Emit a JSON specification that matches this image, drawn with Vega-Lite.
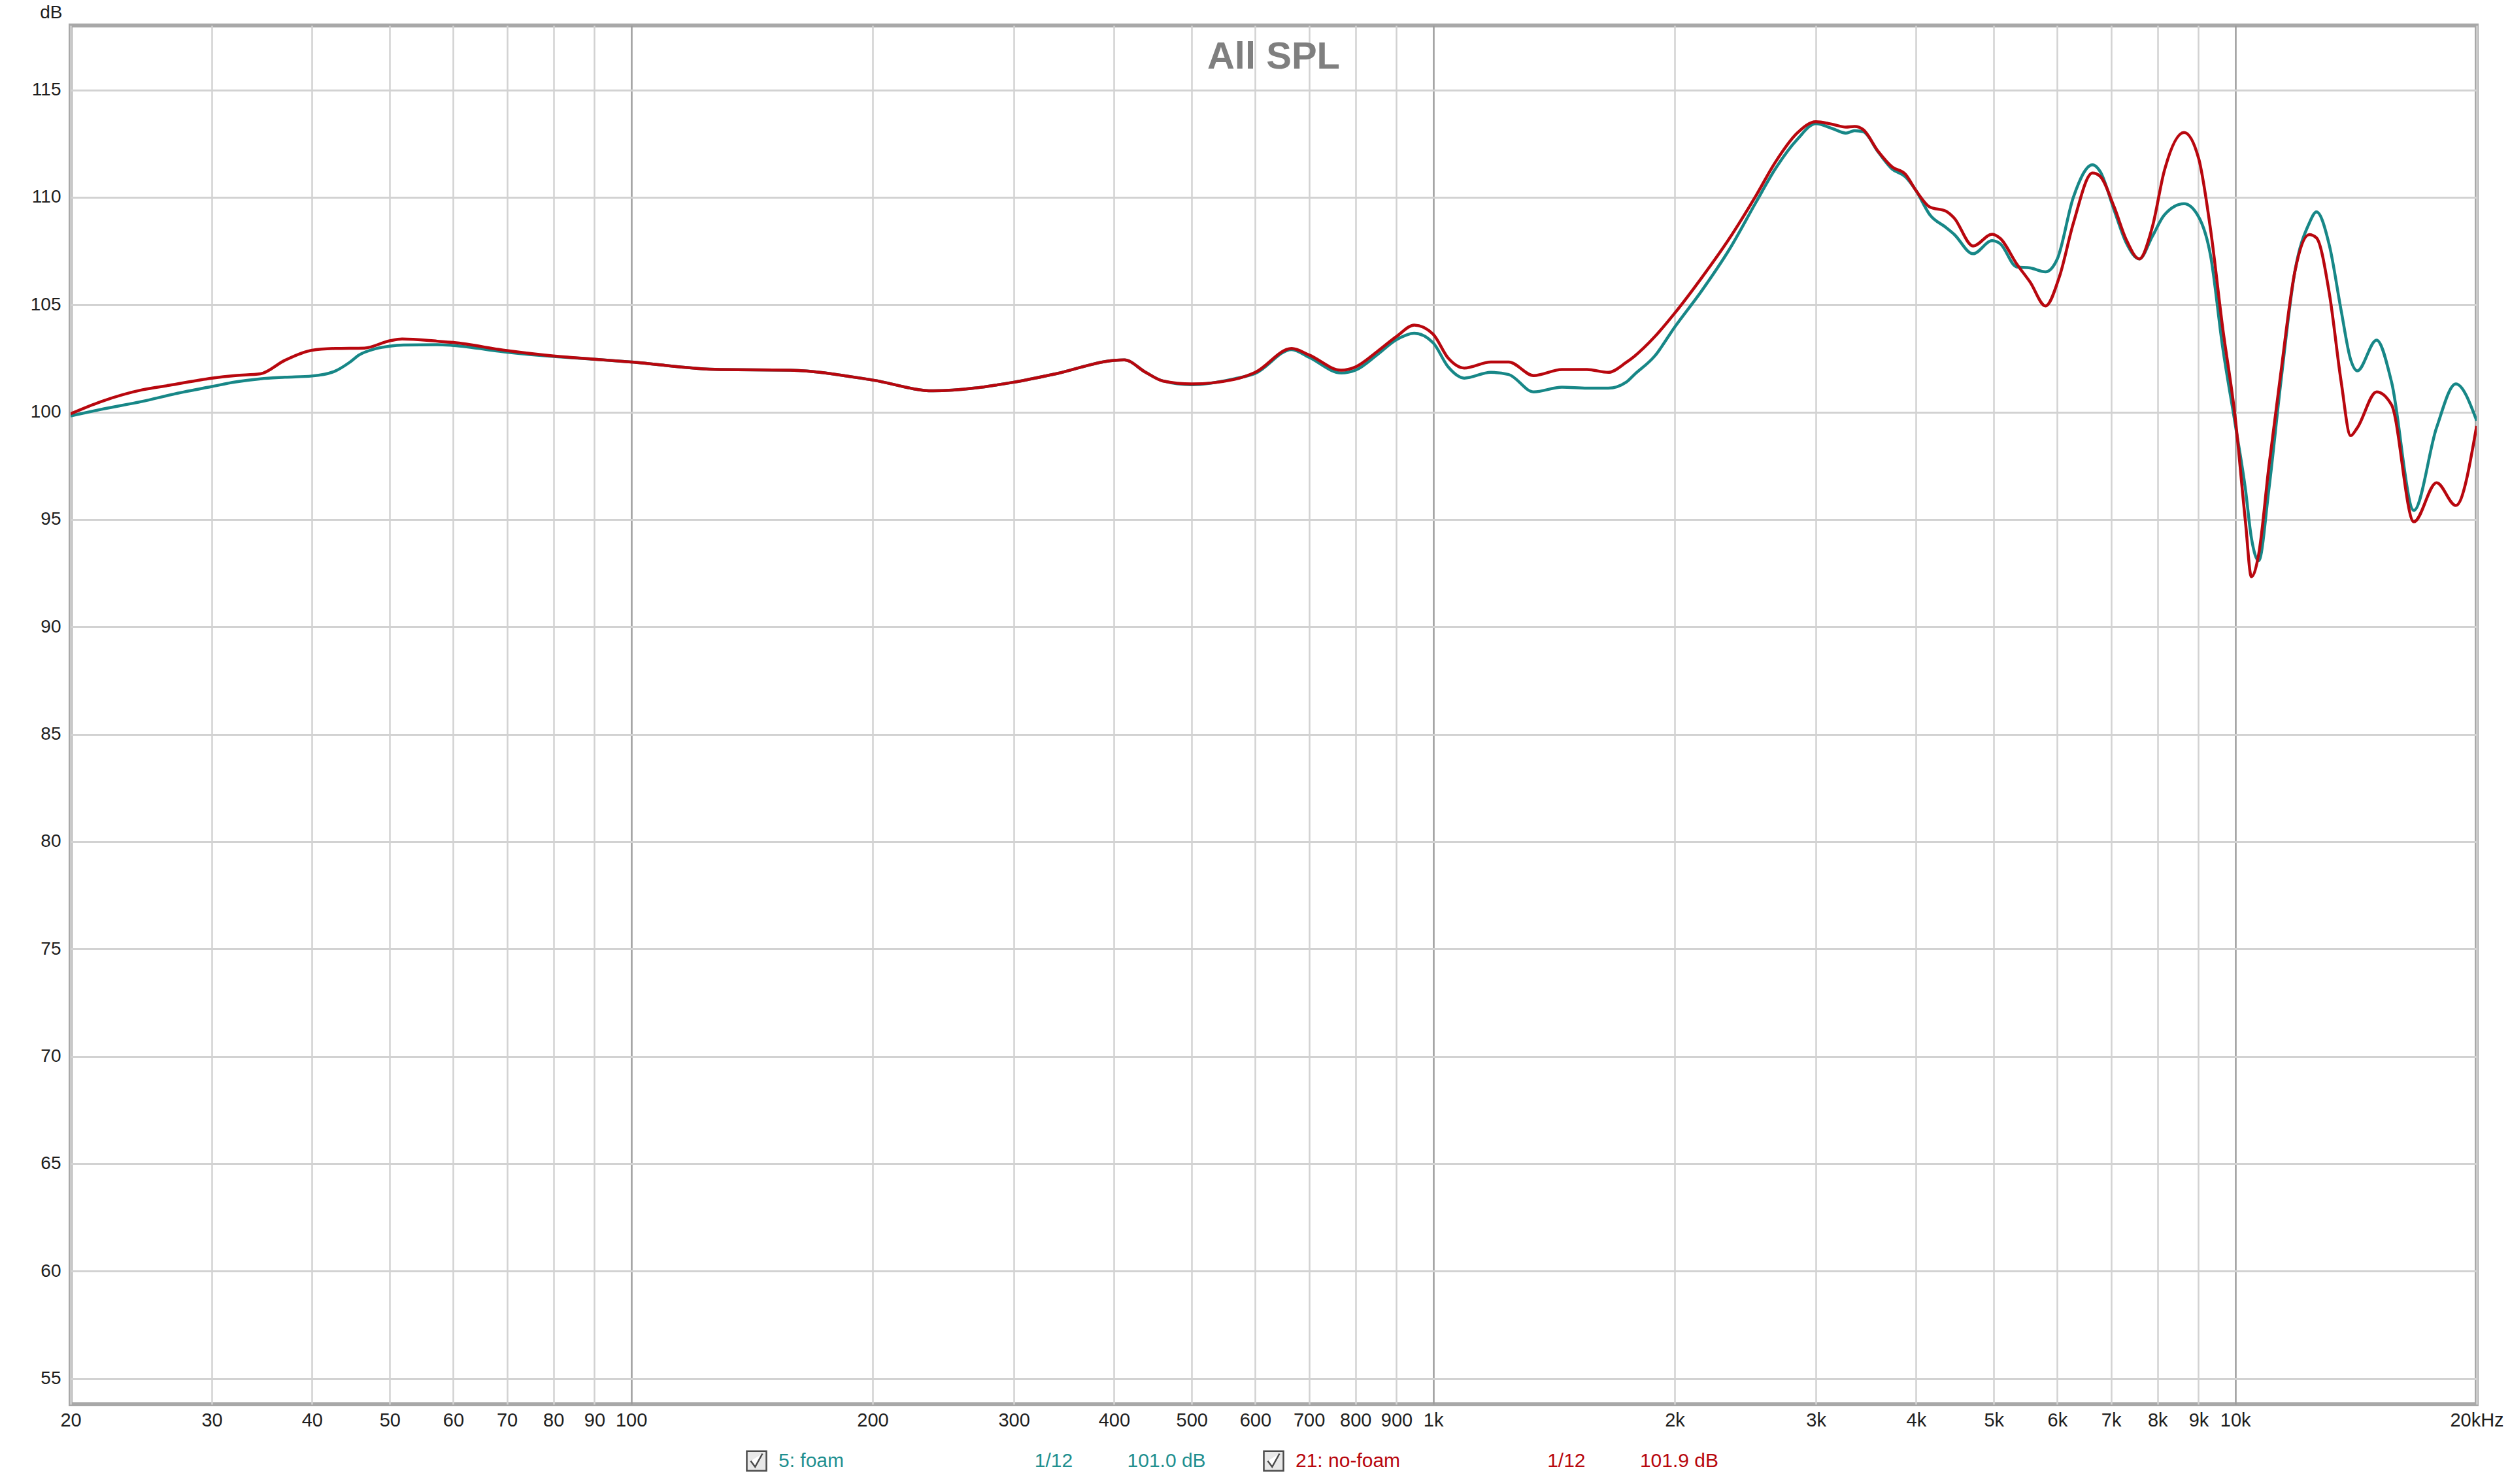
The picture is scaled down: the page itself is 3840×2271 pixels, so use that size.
{
  "$schema": "https://vega.github.io/schema/vega-lite/v6.json",
  "width": 3681,
  "height": 2110,
  "autosize": "none",
  "padding": {"left": 108, "top": 39, "right": 51, "bottom": 122},
  "background": "white",
  "title": {"text": "All SPL", "font": "Liberation Sans", "fontSize": 58, "fontWeight": "bold", "color": "#7f7f7f", "anchor": "middle", "frame": "group", "offset": -63, "dy": 95, "baseline": "alphabetic"},
  "config": {"view": {"stroke": "#a8a8a8", "strokeWidth": 6}},
  "data": {"values": [
    {"s": "5: foam", "f": 20, "db": 99.82}, {"s": "5: foam", "f": 21.8, "db": 100.12}, {"s": "5: foam", "f": 24.6, "db": 100.5}, {"s": "5: foam", "f": 27, "db": 100.85}, {"s": "5: foam", "f": 30, "db": 101.19}, {"s": "5: foam", "f": 32.1, "db": 101.4}, {"s": "5: foam", "f": 34.5, "db": 101.55}, {"s": "5: foam", "f": 37, "db": 101.62}, {"s": "5: foam", "f": 40, "db": 101.68}, {"s": "5: foam", "f": 42.7, "db": 101.9}, {"s": "5: foam", "f": 44.5, "db": 102.3}, {"s": "5: foam", "f": 45.8, "db": 102.66}, {"s": "5: foam", "f": 48, "db": 102.95}, {"s": "5: foam", "f": 50, "db": 103.07}, {"s": "5: foam", "f": 52, "db": 103.12}, {"s": "5: foam", "f": 57.3, "db": 103.14}, {"s": "5: foam", "f": 60, "db": 103.1}, {"s": "5: foam", "f": 70, "db": 102.79}, {"s": "5: foam", "f": 80, "db": 102.59}, {"s": "5: foam", "f": 90, "db": 102.46}, {"s": "5: foam", "f": 100, "db": 102.33}, {"s": "5: foam", "f": 129, "db": 101.98}, {"s": "5: foam", "f": 158, "db": 101.95}, {"s": "5: foam", "f": 200, "db": 101.49}, {"s": "5: foam", "f": 238, "db": 100.99}, {"s": "5: foam", "f": 300, "db": 101.39}, {"s": "5: foam", "f": 340, "db": 101.8}, {"s": "5: foam", "f": 400, "db": 102.41}, {"s": "5: foam", "f": 412, "db": 102.43}, {"s": "5: foam", "f": 438, "db": 101.85}, {"s": "5: foam", "f": 460, "db": 101.45}, {"s": "5: foam", "f": 500, "db": 101.27}, {"s": "5: foam", "f": 565, "db": 101.55}, {"s": "5: foam", "f": 600, "db": 101.8}, {"s": "5: foam", "f": 666, "db": 102.91}, {"s": "5: foam", "f": 700, "db": 102.55}, {"s": "5: foam", "f": 768, "db": 101.82}, {"s": "5: foam", "f": 800, "db": 101.95}, {"s": "5: foam", "f": 851, "db": 102.66}, {"s": "5: foam", "f": 900, "db": 103.37}, {"s": "5: foam", "f": 947, "db": 103.67}, {"s": "5: foam", "f": 1000, "db": 103.22}, {"s": "5: foam", "f": 1044, "db": 102.1}, {"s": "5: foam", "f": 1093, "db": 101.58}, {"s": "5: foam", "f": 1180, "db": 101.85}, {"s": "5: foam", "f": 1242, "db": 101.75}, {"s": "5: foam", "f": 1334, "db": 100.94}, {"s": "5: foam", "f": 1447, "db": 101.16}, {"s": "5: foam", "f": 1555, "db": 101.11}, {"s": "5: foam", "f": 1653, "db": 101.11}, {"s": "5: foam", "f": 1740, "db": 101.39}, {"s": "5: foam", "f": 1782, "db": 101.75}, {"s": "5: foam", "f": 1888, "db": 102.6}, {"s": "5: foam", "f": 2000, "db": 103.95}, {"s": "5: foam", "f": 2162, "db": 105.65}, {"s": "5: foam", "f": 2340, "db": 107.57}, {"s": "5: foam", "f": 2529, "db": 109.8}, {"s": "5: foam", "f": 2670, "db": 111.32}, {"s": "5: foam", "f": 2843, "db": 112.69}, {"s": "5: foam", "f": 3000, "db": 113.43}, {"s": "5: foam", "f": 3146, "db": 113.2}, {"s": "5: foam", "f": 3270, "db": 112.99}, {"s": "5: foam", "f": 3353, "db": 113.1}, {"s": "5: foam", "f": 3437, "db": 113.05}, {"s": "5: foam", "f": 3589, "db": 112.1}, {"s": "5: foam", "f": 3733, "db": 111.32}, {"s": "5: foam", "f": 3880, "db": 110.95}, {"s": "5: foam", "f": 4000, "db": 110.31}, {"s": "5: foam", "f": 4161, "db": 109.19}, {"s": "5: foam", "f": 4360, "db": 108.59}, {"s": "5: foam", "f": 4461, "db": 108.28}, {"s": "5: foam", "f": 4711, "db": 107.37}, {"s": "5: foam", "f": 4975, "db": 107.98}, {"s": "5: foam", "f": 5096, "db": 107.83}, {"s": "5: foam", "f": 5337, "db": 106.76}, {"s": "5: foam", "f": 5550, "db": 106.71}, {"s": "5: foam", "f": 5801, "db": 106.53}, {"s": "5: foam", "f": 6000, "db": 107.13}, {"s": "5: foam", "f": 6283, "db": 110.0}, {"s": "5: foam", "f": 6637, "db": 111.51}, {"s": "5: foam", "f": 6784, "db": 111.21}, {"s": "5: foam", "f": 7064, "db": 109.4}, {"s": "5: foam", "f": 7311, "db": 107.89}, {"s": "5: foam", "f": 7594, "db": 107.13}, {"s": "5: foam", "f": 7885, "db": 108.19}, {"s": "5: foam", "f": 8155, "db": 109.17}, {"s": "5: foam", "f": 8634, "db": 109.7}, {"s": "5: foam", "f": 9003, "db": 109.09}, {"s": "5: foam", "f": 9317, "db": 107.28}, {"s": "5: foam", "f": 9643, "db": 103.05}, {"s": "5: foam", "f": 10000, "db": 99.43}, {"s": "5: foam", "f": 10298, "db": 96.4}, {"s": "5: foam", "f": 10475, "db": 94.14}, {"s": "5: foam", "f": 10697, "db": 93.08}, {"s": "5: foam", "f": 11014, "db": 96.4}, {"s": "5: foam", "f": 11387, "db": 101.24}, {"s": "5: foam", "f": 11866, "db": 106.53}, {"s": "5: foam", "f": 12366, "db": 108.79}, {"s": "5: foam", "f": 12626, "db": 109.32}, {"s": "5: foam", "f": 13109, "db": 107.73}, {"s": "5: foam", "f": 13557, "db": 104.71}, {"s": "5: foam", "f": 13927, "db": 102.45}, {"s": "5: foam", "f": 14198, "db": 101.92}, {"s": "5: foam", "f": 15005, "db": 103.35}, {"s": "5: foam", "f": 15666, "db": 101.39}, {"s": "5: foam", "f": 16701, "db": 95.42}, {"s": "5: foam", "f": 17824, "db": 99.27}, {"s": "5: foam", "f": 18839, "db": 101.31}, {"s": "5: foam", "f": 20000, "db": 99.6},
    {"s": "21: no-foam", "f": 20, "db": 99.92}, {"s": "21: no-foam", "f": 21.8, "db": 100.48}, {"s": "21: no-foam", "f": 24.6, "db": 101.04}, {"s": "21: no-foam", "f": 26.5, "db": 101.24}, {"s": "21: no-foam", "f": 30, "db": 101.58}, {"s": "21: no-foam", "f": 32.1, "db": 101.7}, {"s": "21: no-foam", "f": 34.5, "db": 101.78}, {"s": "21: no-foam", "f": 37, "db": 102.41}, {"s": "21: no-foam", "f": 40, "db": 102.88}, {"s": "21: no-foam", "f": 42.7, "db": 102.96}, {"s": "21: no-foam", "f": 46.5, "db": 102.98}, {"s": "21: no-foam", "f": 50, "db": 103.32}, {"s": "21: no-foam", "f": 51.8, "db": 103.4}, {"s": "21: no-foam", "f": 57.3, "db": 103.3}, {"s": "21: no-foam", "f": 60, "db": 103.24}, {"s": "21: no-foam", "f": 70, "db": 102.86}, {"s": "21: no-foam", "f": 80, "db": 102.61}, {"s": "21: no-foam", "f": 90, "db": 102.46}, {"s": "21: no-foam", "f": 100, "db": 102.33}, {"s": "21: no-foam", "f": 129, "db": 101.98}, {"s": "21: no-foam", "f": 158, "db": 101.95}, {"s": "21: no-foam", "f": 200, "db": 101.49}, {"s": "21: no-foam", "f": 238, "db": 100.99}, {"s": "21: no-foam", "f": 300, "db": 101.39}, {"s": "21: no-foam", "f": 340, "db": 101.8}, {"s": "21: no-foam", "f": 400, "db": 102.41}, {"s": "21: no-foam", "f": 412, "db": 102.43}, {"s": "21: no-foam", "f": 438, "db": 101.85}, {"s": "21: no-foam", "f": 460, "db": 101.45}, {"s": "21: no-foam", "f": 500, "db": 101.31}, {"s": "21: no-foam", "f": 565, "db": 101.52}, {"s": "21: no-foam", "f": 600, "db": 101.85}, {"s": "21: no-foam", "f": 666, "db": 102.96}, {"s": "21: no-foam", "f": 700, "db": 102.66}, {"s": "21: no-foam", "f": 768, "db": 101.95}, {"s": "21: no-foam", "f": 800, "db": 102.1}, {"s": "21: no-foam", "f": 851, "db": 102.81}, {"s": "21: no-foam", "f": 900, "db": 103.52}, {"s": "21: no-foam", "f": 947, "db": 104.05}, {"s": "21: no-foam", "f": 1000, "db": 103.62}, {"s": "21: no-foam", "f": 1044, "db": 102.51}, {"s": "21: no-foam", "f": 1093, "db": 102.05}, {"s": "21: no-foam", "f": 1180, "db": 102.33}, {"s": "21: no-foam", "f": 1242, "db": 102.33}, {"s": "21: no-foam", "f": 1334, "db": 101.7}, {"s": "21: no-foam", "f": 1447, "db": 101.98}, {"s": "21: no-foam", "f": 1555, "db": 101.98}, {"s": "21: no-foam", "f": 1653, "db": 101.85}, {"s": "21: no-foam", "f": 1740, "db": 102.31}, {"s": "21: no-foam", "f": 1782, "db": 102.6}, {"s": "21: no-foam", "f": 1888, "db": 103.5}, {"s": "21: no-foam", "f": 2000, "db": 104.6}, {"s": "21: no-foam", "f": 2162, "db": 106.26}, {"s": "21: no-foam", "f": 2340, "db": 108.08}, {"s": "21: no-foam", "f": 2529, "db": 110.11}, {"s": "21: no-foam", "f": 2670, "db": 111.63}, {"s": "21: no-foam", "f": 2843, "db": 112.99}, {"s": "21: no-foam", "f": 3000, "db": 113.52}, {"s": "21: no-foam", "f": 3146, "db": 113.4}, {"s": "21: no-foam", "f": 3270, "db": 113.27}, {"s": "21: no-foam", "f": 3353, "db": 113.3}, {"s": "21: no-foam", "f": 3437, "db": 113.15}, {"s": "21: no-foam", "f": 3589, "db": 112.13}, {"s": "21: no-foam", "f": 3733, "db": 111.42}, {"s": "21: no-foam", "f": 3880, "db": 111.07}, {"s": "21: no-foam", "f": 4000, "db": 110.31}, {"s": "21: no-foam", "f": 4161, "db": 109.55}, {"s": "21: no-foam", "f": 4360, "db": 109.35}, {"s": "21: no-foam", "f": 4461, "db": 109.04}, {"s": "21: no-foam", "f": 4711, "db": 107.73}, {"s": "21: no-foam", "f": 4975, "db": 108.28}, {"s": "21: no-foam", "f": 5096, "db": 108.08}, {"s": "21: no-foam", "f": 5337, "db": 106.91}, {"s": "21: no-foam", "f": 5550, "db": 106.05}, {"s": "21: no-foam", "f": 5801, "db": 104.94}, {"s": "21: no-foam", "f": 6036, "db": 106.3}, {"s": "21: no-foam", "f": 6283, "db": 108.79}, {"s": "21: no-foam", "f": 6637, "db": 111.13}, {"s": "21: no-foam", "f": 6784, "db": 110.98}, {"s": "21: no-foam", "f": 7064, "db": 109.55}, {"s": "21: no-foam", "f": 7311, "db": 108.04}, {"s": "21: no-foam", "f": 7594, "db": 107.13}, {"s": "21: no-foam", "f": 7885, "db": 108.64}, {"s": "21: no-foam", "f": 8155, "db": 111.21}, {"s": "21: no-foam", "f": 8634, "db": 113.02}, {"s": "21: no-foam", "f": 9003, "db": 111.81}, {"s": "21: no-foam", "f": 9317, "db": 108.49}, {"s": "21: no-foam", "f": 9643, "db": 103.96}, {"s": "21: no-foam", "f": 10000, "db": 99.73}, {"s": "21: no-foam", "f": 10298, "db": 94.89}, {"s": "21: no-foam", "f": 10475, "db": 92.33}, {"s": "21: no-foam", "f": 10697, "db": 93.38}, {"s": "21: no-foam", "f": 11014, "db": 97.46}, {"s": "21: no-foam", "f": 11387, "db": 101.69}, {"s": "21: no-foam", "f": 11866, "db": 106.53}, {"s": "21: no-foam", "f": 12366, "db": 108.26}, {"s": "21: no-foam", "f": 12626, "db": 108.11}, {"s": "21: no-foam", "f": 13109, "db": 105.47}, {"s": "21: no-foam", "f": 13557, "db": 101.39}, {"s": "21: no-foam", "f": 13927, "db": 98.9}, {"s": "21: no-foam", "f": 14198, "db": 99.27}, {"s": "21: no-foam", "f": 15005, "db": 100.94}, {"s": "21: no-foam", "f": 15666, "db": 100.33}, {"s": "21: no-foam", "f": 16701, "db": 94.89}, {"s": "21: no-foam", "f": 17824, "db": 96.71}, {"s": "21: no-foam", "f": 18839, "db": 95.65}, {"s": "21: no-foam", "f": 20000, "db": 99.35}
  ]},
  "mark": {"type": "line", "interpolate": "monotone", "strokeWidth": 4.5, "clip": true},
  "encoding": {
    "x": {"field": "f", "type": "quantitative", "scale": {"type": "log", "domain": [20, 20000], "nice": false},
      "axis": {"title": null, "values": [20, 30, 40, 50, 60, 70, 80, 90, 100, 200, 300, 400, 500, 600, 700, 800, 900, 1000, 2000, 3000, 4000, 5000, 6000, 7000, 8000, 9000, 10000, 20000],
        "labelExpr": "datum.value >= 20000 ? '20kHz' : (datum.value >= 1000 ? (datum.value / 1000) + 'k' : datum.value + '')",
        "grid": true, "gridColor": {"condition": {"test": "datum.value == 100 || datum.value == 1000 || datum.value == 10000", "value": "#9c9c9c"}, "value": "#d2d2d2"}, "gridWidth": 2.5,
        "ticks": false, "domain": false, "labelFont": "Liberation Sans", "labelFontSize": 29, "labelColor": "#1e1e1e", "labelPadding": 10, "labelOverlap": false, "labelFlush": false, "labelBound": false}},
    "y": {"field": "db", "type": "quantitative", "scale": {"domain": [53.8, 118], "nice": false, "zero": false},
      "axis": {"values": [55, 60, 65, 70, 75, 80, 85, 90, 95, 100, 105, 110, 115], "title": "dB", "titleAngle": 0, "titleAlign": "right", "titleBaseline": "alphabetic", "titleX": -13, "titleY": -12, "titleFont": "Liberation Sans", "titleFontSize": 28, "titleFontWeight": "normal", "titleColor": "#1e1e1e",
        "grid": true, "gridColor": "#d2d2d2", "gridWidth": 3, "ticks": false, "domain": false, "labelFont": "Liberation Sans", "labelFontSize": 28, "labelColor": "#1e1e1e", "labelPadding": 15}},
    "color": {"field": "s", "type": "nominal", "scale": {"range": ["#b8070e", "#178787"]}, "legend": null},
    "opacity": {"field": "s", "type": "nominal", "scale": {"domain": ["5: foam", "21: no-foam"], "range": [1, 1]},
      "legend": {"orient": "none", "legendX": 1033, "legendY": 2180, "direction": "horizontal", "columns": 2, "title": null,
        "symbolType": "M-1,-1H1V1H-1Z M-0.6,0 L-0.15,0.6 L0.6,-0.75", "symbolSize": 900, "symbolStrokeWidth": 2.5, "symbolStrokeColor": "#4a4a4a", "symbolFillColor": "#e8e8e8",
        "labelFont": "Liberation Sans", "labelFontSize": 30, "labelOffset": 17, "columnPadding": 83, "labelLimit": 2000, "labelBaseline": "middle",
        "labelColor": {"expr": "datum.value === '5: foam' ? '#1f9090' : '#b8070e'"},
        "labelExpr": "datum.label == '5: foam' ? '5: foam\u00a0\u00a0\u00a0\u00a0\u00a0\u00a0\u00a0\u00a0\u00a0\u00a0\u00a0\u00a0\u00a0\u00a0\u00a0\u00a0\u00a0\u00a0\u00a0\u00a0\u00a0\u00a0\u00a0\u00a0\u00a0\u00a0\u00a0\u00a0\u00a0\u00a0\u00a0\u00a0\u00a0\u00a0\u00a01/12\u00a0\u00a0\u00a0\u00a0\u00a0\u00a0\u00a0\u00a0\u00a0\u00a0101.0 dB' : '21: no-foam\u00a0\u00a0\u00a0\u00a0\u00a0\u00a0\u00a0\u00a0\u00a0\u00a0\u00a0\u00a0\u00a0\u00a0\u00a0\u00a0\u00a0\u00a0\u00a0\u00a0\u00a0\u00a0\u00a0\u00a0\u00a0\u00a0\u00a01/12\u00a0\u00a0\u00a0\u00a0\u00a0\u00a0\u00a0\u00a0\u00a0\u00a0101.9 dB'"}}
  }
}
